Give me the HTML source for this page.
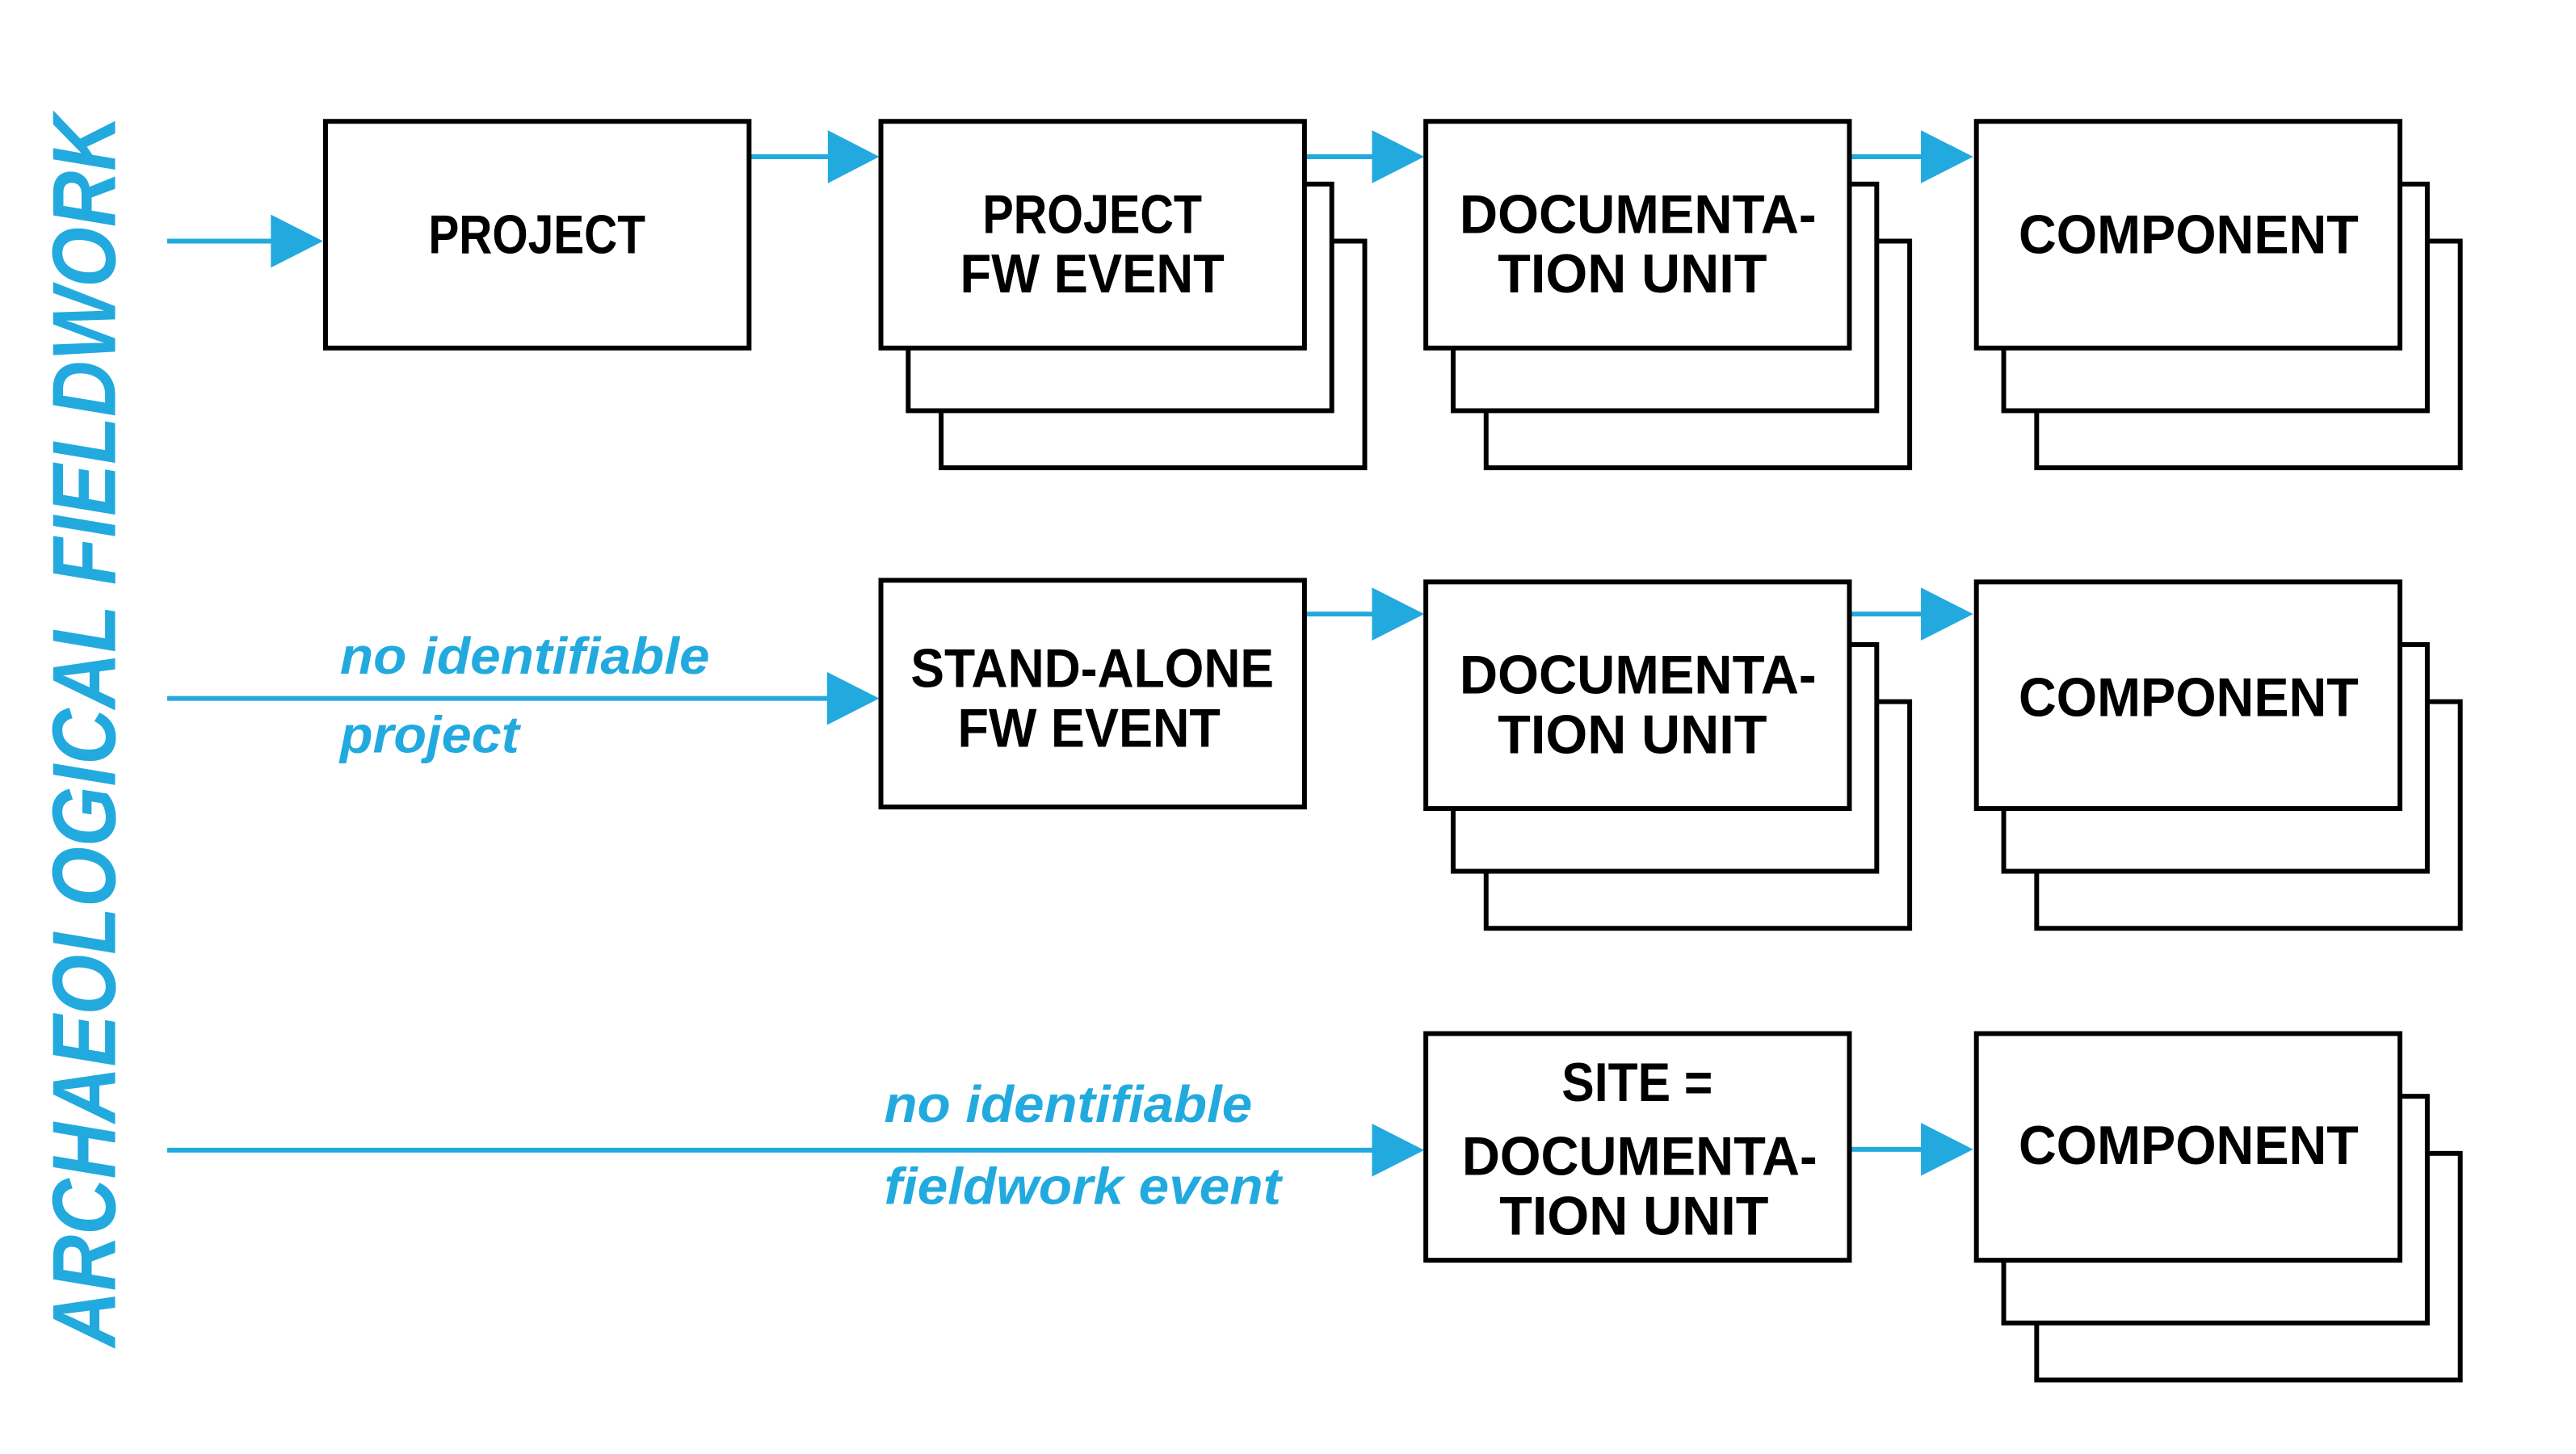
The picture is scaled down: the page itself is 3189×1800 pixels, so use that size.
<!DOCTYPE html>
<html><head><meta charset="utf-8"><style>html,body{margin:0;padding:0;background:#fff}svg{display:block}</style></head>
<body>
<svg width="3189" height="1800" viewBox="0 0 3189 1800" xmlns="http://www.w3.org/2000/svg">
<defs>
<g id="stack">
<rect x="75" y="149" width="527" height="282" fill="#fff" stroke="#000" stroke-width="6"/>
<rect x="34" y="78" width="527" height="282" fill="#fff" stroke="#000" stroke-width="6"/>
<rect x="0" y="0" width="527" height="282" fill="#fff" stroke="#000" stroke-width="6"/>
</g>
</defs>
<g transform="scale(0.995)">
<g fill="#22aadf">
<rect x="208" y="297" width="135" height="6"/><polygon points="337,267 402,300 337,333"/>
<rect x="932" y="192" width="100" height="6"/><polygon points="1030,162 1094,195 1030,228"/>
<rect x="1623" y="192" width="88" height="6"/><polygon points="1707,162 1772,195 1707,228"/>
<rect x="2302" y="192" width="92" height="6"/><polygon points="2390,162 2455,195 2390,228"/>
<rect x="208" y="866" width="825" height="6"/><polygon points="1029,836 1094,869 1029,902"/>
<rect x="1623" y="761" width="88" height="6"/><polygon points="1707,731 1772,764 1707,797"/>
<rect x="2302" y="761" width="92" height="6"/><polygon points="2390,731 2455,764 2390,797"/>
<rect x="208" y="1428" width="1503" height="6"/><polygon points="1707,1398 1772,1431 1707,1464"/>
<rect x="2302" y="1427" width="92" height="6"/><polygon points="2390,1397 2455,1430 2390,1463"/>
</g>
<rect x="405" y="151" width="527" height="282" fill="#fff" stroke="#000" stroke-width="6"/>
<use href="#stack" x="1096" y="151"/>
<use href="#stack" x="1774" y="151"/>
<use href="#stack" x="2459" y="151"/>
<rect x="1096" y="722" width="527" height="282" fill="#fff" stroke="#000" stroke-width="6"/>
<use href="#stack" x="1774" y="724"/>
<use href="#stack" x="2459" y="724"/>
<rect x="1774" y="1286" width="527" height="282" fill="#fff" stroke="#000" stroke-width="6"/>
<use href="#stack" x="2459" y="1286"/>
<g font-family="Liberation Sans, sans-serif" font-weight="bold" font-size="68" fill="#000" text-anchor="middle">
<text x="668" y="315" textLength="270" lengthAdjust="spacingAndGlyphs">PROJECT</text>
<text x="1359" y="290" textLength="273" lengthAdjust="spacingAndGlyphs">PROJECT</text>
<text x="1359" y="364" textLength="329" lengthAdjust="spacingAndGlyphs">FW EVENT</text>
<text x="2038" y="290" textLength="444" lengthAdjust="spacingAndGlyphs">DOCUMENTA-</text>
<text x="2031" y="364" textLength="335" lengthAdjust="spacingAndGlyphs">TION UNIT</text>
<text x="2723" y="315" textLength="423" lengthAdjust="spacingAndGlyphs">COMPONENT</text>
<text x="1359" y="855" textLength="452" lengthAdjust="spacingAndGlyphs">STAND-ALONE</text>
<text x="1355" y="929" textLength="327" lengthAdjust="spacingAndGlyphs">FW EVENT</text>
<text x="2038" y="863" textLength="444" lengthAdjust="spacingAndGlyphs">DOCUMENTA-</text>
<text x="2031" y="937" textLength="335" lengthAdjust="spacingAndGlyphs">TION UNIT</text>
<text x="2723" y="891" textLength="423" lengthAdjust="spacingAndGlyphs">COMPONENT</text>
<text x="2037" y="1370" textLength="188" lengthAdjust="spacingAndGlyphs">SITE =</text>
<text x="2040" y="1462" textLength="442" lengthAdjust="spacingAndGlyphs">DOCUMENTA-</text>
<text x="2033" y="1536" textLength="335" lengthAdjust="spacingAndGlyphs">TION UNIT</text>
<text x="2723" y="1448" textLength="423" lengthAdjust="spacingAndGlyphs">COMPONENT</text>
</g>
<g font-family="Liberation Sans, sans-serif" font-weight="bold" font-style="italic" font-size="64" fill="#22aadf">
<text x="423" y="838" textLength="460" lengthAdjust="spacingAndGlyphs">no identifiable</text>
<text x="423" y="936" textLength="223" lengthAdjust="spacingAndGlyphs">project</text>
<text x="1100" y="1396" textLength="458" lengthAdjust="spacingAndGlyphs">no identifiable</text>
<text x="1100" y="1498" textLength="494" lengthAdjust="spacingAndGlyphs">fieldwork event</text>
<text transform="translate(143,1676) rotate(-90)" font-size="112" textLength="1533" lengthAdjust="spacingAndGlyphs">ARCHAEOLOGICAL FIELDWORK</text>
</g>
</g>
</svg>
</body></html>
